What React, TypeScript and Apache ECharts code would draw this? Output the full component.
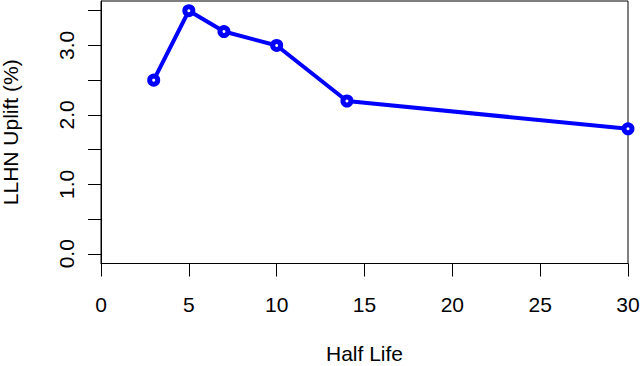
import React, { useEffect, useRef } from "react";
import * as echarts from "echarts";

const halfLife = [3, 5, 7, 10, 14, 30];
const uplift = [2.5, 3.5, 3.2, 3.0, 2.2, 1.8];
const xTicks = [0, 5, 10, 15, 20, 25, 30];
const yTicks = [0, 0.5, 1, 1.5, 2, 2.5, 3, 3.5];
const yLabels = [0, 1, 2, 3];

export default function App() {
  const ref = useRef<HTMLDivElement>(null);
  useEffect(() => {
    if (!ref.current) return;
    const chart = echarts.init(ref.current, null, { renderer: "svg" });
    const font = "Liberation Sans, Helvetica, Arial, sans-serif";
    chart.setOption({
      animation: false,
      backgroundColor: "#fff",
      grid: {
        left: 101,
        right: 12,
        top: 1,
        bottom: 102.5,
        containLabel: false,
        outerBoundsMode: "none",
        show: true,
        borderColor: "#000",
        borderWidth: 1,
        backgroundColor: "transparent",
      },
      xAxis: {
        type: "value",
        min: 0,
        max: 30,
        interval: 5,
        name: "Half Life",
        nameLocation: "middle",
        nameGap: 79,
        nameTextStyle: { fontFamily: font, fontSize: 21, color: "#000" },
        axisLine: { show: true, onZero: false, lineStyle: { color: "#000", width: 1 } },
        axisTick: { show: true, length: 13, lineStyle: { color: "#000", width: 1 }, customValues: xTicks },
        axisLabel: { fontFamily: font, fontSize: 21, color: "#000", margin: 30, customValues: xTicks },
        splitLine: { show: false },
      },
      yAxis: {
        type: "value",
        min: -0.14,
        max: 3.64,
        name: "LLHN Uplift (%)",
        nameLocation: "middle",
        nameRotate: 90,
        nameGap: 80,
        nameTextStyle: { fontFamily: font, fontSize: 21, color: "#000" },
        axisLine: { show: true, onZero: false, lineStyle: { color: "#000", width: 1 } },
        axisTick: { show: true, length: 13, lineStyle: { color: "#000", width: 1 }, customValues: yTicks },
        axisLabel: {
          fontFamily: font,
          fontSize: 21,
          color: "#000",
          rotate: 90,
          margin: 24,
          customValues: yLabels,
          formatter: (v: number) => v.toFixed(1),
        },
        splitLine: { show: false },
      },
      series: [
        {
          type: "line",
          data: halfLife.map((x, i) => [x, uplift[i]]),
          lineStyle: { color: "#0000ff", width: 4 },
          symbol: "circle",
          symbolSize: 8,
          itemStyle: { color: "#fff", borderColor: "#0000ff", borderWidth: 5 },
          clip: true,
        },
      ],
    });
    return () => chart.dispose();
  }, []);
  return (
    <div
      ref={ref}
      style={{ position: "fixed", left: 0, top: 0, width: 640, height: 366 }}
    />
  );
}
